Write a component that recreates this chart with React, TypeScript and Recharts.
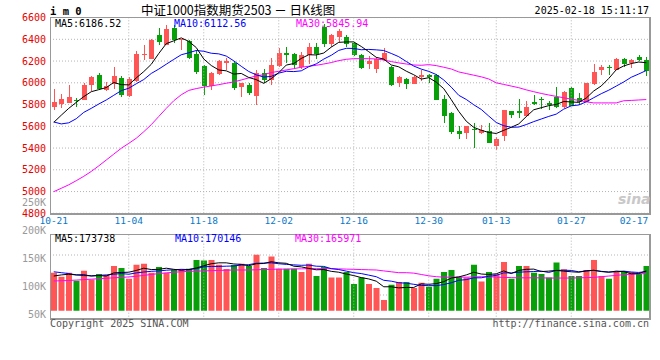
import { ComposedChart, Bar, Line, XAxis, YAxis, CartesianGrid, ReferenceLine, Cell } from 'recharts';

// 交易日（MM-DD）
const dates = [
  '10-21', '10-22', '10-23', '10-24', '10-25', '10-28', '10-29', '10-30', '10-31', '11-01',
  '11-04', '11-05', '11-06', '11-07', '11-08', '11-11', '11-12', '11-13', '11-14', '11-15',
  '11-18', '11-19', '11-20', '11-21', '11-22', '11-25', '11-26', '11-27', '11-28', '11-29',
  '12-02', '12-03', '12-04', '12-05', '12-06', '12-09', '12-10', '12-11', '12-12', '12-13',
  '12-16', '12-17', '12-18', '12-19', '12-20', '12-23', '12-24', '12-25', '12-26', '12-27',
  '12-30', '12-31', '01-02', '01-03', '01-06', '01-07', '01-08', '01-09', '01-10', '01-13',
  '01-14', '01-15', '01-16', '01-17', '01-20', '01-21', '01-22', '01-23', '01-24', '01-27',
  '02-05', '02-06', '02-07', '02-10', '02-11', '02-12', '02-13', '02-14', '02-17', '02-18',
];

const opens = [
  5775, 5806, 5818, 5843, 5849, 5977, 6075, 5934, 5990, 6045,
  5879, 6014, 6256, 6222, 6443, 6350, 6504, 6388, 6388, 6265,
  6155, 5970, 6075, 6178, 6180, 5960, 5982, 5882, 6094, 6026,
  6149, 6277, 6265, 6149, 6259, 6326, 6510, 6357, 6425, 6422,
  6363, 6255, 6166, 6130, 6210, 6149, 6002, 6039, 5996, 6057,
  6069, 6075, 5855, 5726, 5555, 5536, 5573, 5536, 5561, 5426,
  5512, 5738, 5738, 5702, 5824, 5855, 5818, 5867, 5775, 5953,
  5861, 5824, 5990, 6118, 6143, 6118, 6222, 6180, 6241, 6210,
];
const highs = [
  5947, 5898, 5983, 5861, 6002, 6063, 6088, 6008, 6143, 6063,
  6051, 6290, 6351, 6400, 6504, 6530, 6535, 6406, 6394, 6300,
  6165, 6100, 6208, 6230, 6200, 6000, 5995, 6115, 6130, 6228,
  6320, 6326, 6278, 6284, 6369, 6363, 6541, 6449, 6495, 6440,
  6370, 6268, 6245, 6235, 6320, 6152, 6063, 6045, 6063, 6118,
  6078, 6081, 5892, 5730, 5604, 5606, 5628, 5616, 5628, 5506,
  5753, 5745, 5855, 5830, 5892, 5873, 5837, 5965, 5922, 5958,
  5910, 6002, 6173, 6167, 6161, 6228, 6230, 6216, 6259, 6241,
];
const lows = [
  5751, 5769, 5812, 5775, 5843, 5928, 5934, 5922, 5941, 5867,
  5873, 6008, 6210, 6216, 6345, 6343, 6363, 6300, 6216, 6080,
  5890, 5930, 6068, 6120, 5938, 5873, 5885, 5793, 6002, 5983,
  6143, 6186, 6130, 6130, 6173, 6216, 6326, 6333, 6372, 6328,
  6247, 6128, 6124, 6094, 6204, 5971, 5965, 5941, 5993, 6014,
  6002, 5843, 5634, 5528, 5487, 5487, 5401, 5530, 5444, 5383,
  5469, 5677, 5677, 5690, 5794, 5763, 5751, 5772, 5772, 5787,
  5800, 5822, 5984, 6075, 6075, 6115, 6149, 6137, 6198, 6063,
];
const closes = [
  5824, 5855, 5873, 5830, 5983, 6051, 5947, 5971, 6063, 5885,
  6039, 6265, 6265, 6394, 6382, 6495, 6395, 6400, 6235, 6097,
  5967, 6094, 6196, 6196, 5948, 5995, 5912, 6094, 6026, 6161,
  6271, 6262, 6167, 6259, 6333, 6259, 6351, 6437, 6480, 6355,
  6257, 6140, 6196, 6222, 6277, 5983, 6057, 5996, 6057, 6075,
  6051, 5849, 5696, 5555, 5532, 5604, 5561, 5567, 5450, 5487,
  5751, 5702, 5722, 5781, 5806, 5843, 5800, 5775, 5916, 5787,
  5824, 5996, 6100, 6149, 6133, 6222, 6173, 6210, 6216, 6106,
];

const ma5 = [
  5636, 5702, 5765, 5820, 5873, 5918, 5937, 5956, 6003, 5983,
  5981, 6045, 6103, 6170, 6269, 6360, 6386, 6413, 6381, 6324,
  6219, 6159, 6118, 6110, 6080, 6086, 6049, 6029, 5995, 6038,
  6093, 6163, 6177, 6224, 6258, 6256, 6274, 6328, 6372, 6376,
  6376, 6334, 6286, 6234, 6218, 6164, 6147, 6107, 6074, 6034,
  6047, 6006, 5946, 5845, 5737, 5647, 5590, 5564, 5543, 5534,
  5563, 5591, 5622, 5689, 5752, 5771, 5790, 5801, 5828, 5824,
  5820, 5860, 5925, 5971, 6040, 6120, 6155, 6177, 6191, 6185,
];
const ma10 = [
  5640, 5622, 5632, 5670, 5728, 5765, 5805, 5842, 5885, 5928,
  5950, 5991, 6030, 6086, 6126, 6171, 6215, 6258, 6276, 6297,
  6290, 6272, 6266, 6246, 6202, 6152, 6104, 6073, 6053, 6059,
  6089, 6106, 6103, 6110, 6148, 6174, 6218, 6253, 6298, 6317,
  6316, 6304, 6307, 6303, 6297, 6270, 6240, 6196, 6154, 6126,
  6105, 6076, 6026, 5960, 5885, 5847, 5798, 5755, 5694, 5635,
  5605, 5591, 5593, 5616, 5643, 5667, 5691, 5712, 5758, 5788,
  5796, 5825, 5863, 5900, 5932, 5970, 6008, 6051, 6081, 6113,
];
const ma30 = [
  4999, 5030, 5062, 5100, 5140, 5185, 5236, 5290, 5344, 5398,
  5443, 5490, 5550, 5615, 5690, 5765, 5835, 5890, 5930, 5947,
  5960, 5971, 5983, 5996, 6008, 6026, 6045, 6063, 6075, 6094,
  6106, 6118, 6130, 6143, 6152, 6161, 6173, 6186, 6204, 6216,
  6222, 6222, 6222, 6219, 6210, 6195, 6183, 6173, 6164, 6161,
  6167, 6158, 6143, 6127, 6100, 6085, 6070, 6055, 6035, 6000,
  5985, 5970, 5955, 5935, 5918, 5902, 5888, 5875, 5862, 5850,
  5838, 5825, 5815, 5815, 5815, 5815, 5835, 5838, 5842, 5846,
];

// 成交量（K）
const volumes = [
  170, 152, 170, 134, 179, 140, 164, 160, 200, 191,
  143, 206, 210, 170, 195, 170, 182, 186, 188, 227,
  224, 227, 206, 186, 204, 210, 200, 250, 191, 242,
  188, 188, 188, 173, 210, 155, 195, 149, 149, 173,
  119, 149, 119, 101, 48, 116, 128, 128, 101, 125,
  107, 143, 173, 182, 152, 149, 206, 131, 173, 164,
  218, 143, 200, 200, 170, 164, 149, 215, 185, 155,
  155, 182, 227, 155, 143, 176, 176, 173, 164, 200,
];
const volMa5 = [
  155, 160, 163, 160, 161, 155, 157, 155, 169, 171,
  172, 180, 190, 184, 185, 190, 185, 181, 184, 191,
  201, 210, 214, 214, 209, 207, 201, 210, 211, 219,
  214, 212, 199, 196, 189, 183, 184, 176, 172, 164,
  157, 148, 142, 132, 107, 107, 102, 104, 104, 120,
  118, 121, 130, 146, 151, 160, 172, 164, 162, 165,
  178, 166, 180, 185, 186, 175, 177, 180, 177, 174,
  172, 178, 181, 175, 172, 177, 175, 165, 166, 178,
];
const volMa10 = [
  174, 170, 166, 160, 157, 156, 158, 160, 163, 166,
  163, 169, 173, 176, 178, 181, 183, 185, 184, 188,
  196, 198, 198, 199, 200, 204, 206, 212, 213, 214,
  210, 207, 205, 203, 204, 199, 198, 188, 184, 177,
  170, 166, 159, 152, 136, 132, 125, 123, 118, 113,
  112, 112, 117, 125, 136, 139, 147, 147, 154, 158,
  169, 169, 172, 174, 175, 177, 171, 180, 181, 180,
  174, 178, 180, 176, 173, 174, 177, 173, 171, 175,
];
const volMa30 = [
  133, 134, 135, 137, 139, 141, 143, 145, 147, 149,
  151, 154, 158, 162, 166, 169, 172, 174, 176, 177,
  178, 179, 180, 181, 182, 182, 182, 183, 184, 185,
  186, 186, 187, 187, 188, 188, 188, 188, 187, 186,
  185, 184, 183, 182, 178, 174, 170, 170, 168, 162,
  156, 152, 150, 150, 150, 150, 151, 152, 152, 150,
  149, 148, 147, 147, 147, 147, 146, 146, 146, 146,
  147, 148, 149, 152, 155, 158, 161, 163, 165, 166,
];

const priceTicks = [4800, 5000, 5200, 5400, 5600, 5800, 6000, 6200, 6400, 6600];
const volTicks = [50, 100, 150, 200, 250];
const xTicks = ['10-21', '11-04', '11-18', '12-02', '12-16', '12-30', '01-13', '01-27', '02-17'];
const gridDates = ['11-04', '11-18', '12-02', '12-16', '12-30', '01-13', '01-27'];

const MONO = '"DejaVu Sans Mono", "Liberation Mono", monospace';
const RED = '#ff5555';
const GREEN = '#08a008';
const GRID = '#b4b4b4';

const rows = dates.map((date, i) => ({
  date,
  open: opens[i],
  high: highs[i],
  low: lows[i],
  close: closes[i],
  ma5: ma5[i],
  ma10: ma10[i],
  ma30: ma30[i],
  vol: volumes[i],
  vma5: volMa5[i],
  vma10: volMa10[i],
  vma30: volMa30[i],
}));

const candleRange = (d: any) => [d.low, d.high];

function Candle(props: any) {
  const { x, y, width, height, payload } = props;
  const { open, close, high, low } = payload;
  const color = close >= open ? RED : GREEN;
  const k = high > low ? height / (high - low) : 0;
  const yOpen = y + (high - open) * k;
  const yClose = y + (high - close) * k;
  const top = Math.round(Math.min(yOpen, yClose));
  const h = Math.max(1, Math.round(Math.abs(yOpen - yClose)));
  const c = Math.floor(x + width / 2);
  return (
    <g shapeRendering="crispEdges">
      <line x1={c + 0.5} x2={c + 0.5} y1={y} y2={y + height} stroke={color} strokeWidth={1} />
      <rect x={c - 2} y={top} width={5} height={h} fill={color} />
    </g>
  );
}

function DateTick(props: any) {
  const { x, y, payload } = props;
  // 首尾标签贴住边框
  const cx = Math.max(Math.min(x, 634), 49);
  return (
    <text x={cx} y={y} dy="0.71em" textAnchor="middle" fill="#0a78c8" fontSize={9.5} fontFamily={MONO}>
      {payload.value}
    </text>
  );
}

const txt = (extra: any) => ({
  position: 'absolute' as const,
  fontFamily: MONO,
  fontSize: 10,
  lineHeight: '12px',
  whiteSpace: 'nowrap' as const,
  ...extra,
});

export default function App() {
  return (
    <div style={{ position: 'relative', width: 660, height: 360, background: '#fff', overflow: 'hidden' }}>
      <style>{'body{margin:0}'}</style>

      {/* K线 */}
      <div style={{ position: 'absolute', left: 0, top: 0 }}>
        <ComposedChart width={660} height={232} data={rows} margin={{ top: 17.55, right: 10, bottom: 0, left: 0 }}>
          <CartesianGrid vertical={false} stroke={GRID} strokeDasharray="1 2" />
          <XAxis
            dataKey="date"
            ticks={xTicks}
            interval={0}
            tickLine={false}
            axisLine={false}
            tickSize={0}
            tickMargin={4}
            height={18.7}
            tick={DateTick}
          />
          <YAxis
            domain={[4800, 6600]}
            ticks={priceTicks}
            interval={0}
            allowDataOverflow
            width={50}
            tickLine={false}
            axisLine={false}
            tickSize={0}
            tickMargin={4}
            tick={{ fill: '#e60000', fontSize: 10, fontFamily: MONO }}
          />
          {gridDates.map((d) => (
            <ReferenceLine key={d} x={d} stroke={GRID} strokeDasharray="1 2" />
          ))}
          <Bar dataKey={candleRange} barSize={6} shape={Candle} isAnimationActive={false} />
          <Line dataKey="ma30" type="linear" stroke="#ff00ff" strokeWidth={1} dot={false} isAnimationActive={false} />
          <Line dataKey="ma10" type="linear" stroke="#0000ff" strokeWidth={1} dot={false} isAnimationActive={false} />
          <Line dataKey="ma5" type="linear" stroke="#000000" strokeWidth={1} dot={false} isAnimationActive={false} />
        </ComposedChart>
      </div>

      {/* 成交量 */}
      <div style={{ position: 'absolute', left: 0, top: 190 }}>
        <ComposedChart width={660} height={130} data={rows} margin={{ top: 10, right: 10, bottom: 1.7, left: 0 }}>
          <XAxis dataKey="date" hide />
          <YAxis
            yAxisId="lab"
            domain={[44, 254.6]}
            ticks={volTicks}
            interval={0}
            allowDataOverflow
            width={50}
            tickLine={false}
            axisLine={false}
            tickSize={0}
            tickMargin={4}
            tickFormatter={(v: number) => `${v}K`}
            tick={{ fill: '#999999', fontSize: 10, fontFamily: MONO }}
          />
          <YAxis yAxisId="v" domain={[-34, 495]} allowDataOverflow hide />
          <CartesianGrid yAxisId="v" vertical={false} horizontalPoints={[65, 105]} stroke={GRID} strokeDasharray="1 2" />
          {gridDates.map((d) => (
            <ReferenceLine
              key={d}
              yAxisId="v"
              segment={[{ x: d, y: 340 }, { x: d, y: -34 }]}
              stroke={GRID}
              strokeDasharray="1 2"
            />
          ))}
          <Bar yAxisId="v" dataKey="vol" barSize={6} isAnimationActive={false}>
            {rows.map((r, i) => (
              <Cell key={`v-${i}`} fill={r.close >= r.open ? RED : GREEN} />
            ))}
          </Bar>
          <Line yAxisId="v" dataKey="vma30" type="linear" stroke="#ff00ff" strokeWidth={1} dot={false} isAnimationActive={false} />
          <Line yAxisId="v" dataKey="vma10" type="linear" stroke="#0000ff" strokeWidth={1} dot={false} isAnimationActive={false} />
          <Line yAxisId="v" dataKey="vma5" type="linear" stroke="#000000" strokeWidth={1} dot={false} isAnimationActive={false} />
        </ComposedChart>
      </div>

      {/* 边框 */}
      <div style={{ position: 'absolute', left: 50, top: 17, width: 601, height: 198, boxSizing: 'border-box', borderStyle: 'solid', borderColor: '#999', borderWidth: '1px 2px 2px 1px' }} />
      <div style={{ position: 'absolute', left: 50, top: 234, width: 601, height: 86, boxSizing: 'border-box', borderStyle: 'solid', borderColor: '#999', borderWidth: '1px 2px 2px 1px' }} />

      {/* 文字 */}
      <div style={txt({ left: 50, top: 5, fontSize: 10.5, fontWeight: 'bold' })}>i m 0</div>
      <div style={txt({ left: 141, top: 3, fontFamily: '"Noto Sans CJK SC", sans-serif', fontSize: 12.5, lineHeight: '14px', color: '#000' })}>
        中证1000指数期货2503 － 日K线图
      </div>
      <div style={txt({ right: 11, top: 5, color: '#000' })}>2025-02-18 15:11:17</div>

      <div style={txt({ left: 55, top: 18, color: '#000' })}>MA5:6186.52</div>
      <div style={txt({ left: 174, top: 18, color: '#0000ff' })}>MA10:6112.56</div>
      <div style={txt({ left: 296, top: 18, color: '#ff00ff' })}>MA30:5845.94</div>

      <div style={txt({ left: 55, top: 233, color: '#000' })}>MA5:173738</div>
      <div style={txt({ left: 175, top: 233, color: '#0000ff' })}>MA10:170146</div>
      <div style={txt({ left: 295, top: 233, color: '#ff00ff' })}>MA30:165971</div>

      <div style={txt({ left: 618, top: 193, fontFamily: 'Verdana, "DejaVu Sans", sans-serif', fontSize: 14, fontWeight: 'bold', fontStyle: 'italic', color: '#c8c8c8' })}>sina</div>

      <div style={txt({ left: 50, top: 318, color: '#555' })}>Copyright 2025 SINA.COM</div>
      <div style={txt({ right: 11, top: 318, color: '#555' })}>http://finance.sina.com.cn</div>
    </div>
  );
}
